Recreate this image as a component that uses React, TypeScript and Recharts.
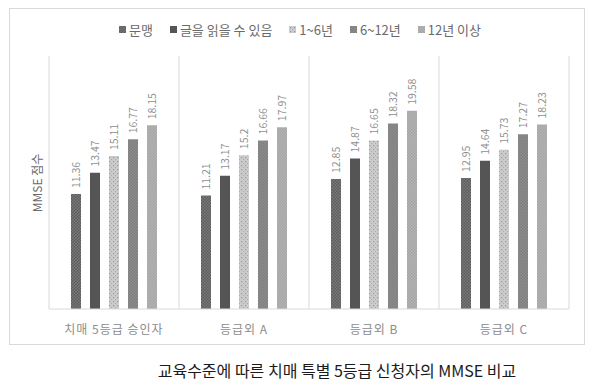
import React from "react";
import { BarChart, Bar, XAxis, YAxis, Legend, LabelList, CartesianGrid } from "recharts";

const categories = ["치매 5등급 승인자", "등급외 A", "등급외 B", "등급외 C"];
const seriesNames = ["문맹", "글을 읽을 수 있음", "1~6년", "6~12년", "12년 이상"];
const illiterate = [11.36, 11.21, 12.85, 12.95];
const canRead = [13.47, 13.17, 14.87, 14.64];
const y1to6 = [15.11, 15.2, 16.65, 15.73];
const y6to12 = [16.77, 16.66, 18.32, 17.27];
const y12plus = [18.15, 17.97, 19.58, 18.23];
const yDomain = [0, 25];

const seriesKeys = ["s0", "s1", "s2", "s3", "s4"];
const seriesValues = [illiterate, canRead, y1to6, y6to12, y12plus];
const patternIds = ["p0", "p1", "p2", "p3", "p4"];

const data = categories.map((name, i) => {
  const row: Record<string, string | number> = { name };
  seriesKeys.forEach((k, s) => {
    row[k] = seriesValues[s][i];
  });
  return row;
});

const KR = '"Noto Sans CJK KR", "Noto Sans", sans-serif';

const Patterns = () => (
  <svg width={0} height={0} style={{ position: "absolute" }}>
    <defs>
      <pattern id="p0" width={3} height={3} patternUnits="userSpaceOnUse">
        <rect width={3} height={3} fill="#5c5c5c" />
        <rect x={0} y={0} width={1.5} height={1.5} fill="#7a7a7a" />
        <rect x={1.5} y={1.5} width={1.5} height={1.5} fill="#7a7a7a" />
      </pattern>
      <pattern id="p1" width={4} height={4} patternUnits="userSpaceOnUse">
        <rect width={4} height={4} fill="#555555" />
      </pattern>
      <pattern id="p2" width={4} height={4} patternUnits="userSpaceOnUse">
        <rect width={4} height={4} fill="#cbcbcb" />
        <rect x={1} y={1} width={1.2} height={1.2} fill="#9a9a9a" />
        <rect x={3} y={3} width={1} height={1} fill="#aaaaaa" />
      </pattern>
      <pattern id="p3" width={3} height={3} patternUnits="userSpaceOnUse">
        <rect width={3} height={3} fill="#8e8e8e" />
        <rect x={0} y={0} width={1.5} height={1.5} fill="#7d7d7d" />
        <rect x={1.5} y={1.5} width={1.5} height={1.5} fill="#7d7d7d" />
      </pattern>
      <pattern id="p4" width={3} height={3} patternUnits="userSpaceOnUse">
        <rect width={3} height={3} fill="#b4b4b4" />
        <rect x={0} y={0} width={1.5} height={1.5} fill="#a4a4a4" />
        <rect x={1.5} y={1.5} width={1.5} height={1.5} fill="#a4a4a4" />
      </pattern>
    </defs>
  </svg>
);

const ValueLabel = (props: any) => {
  const { x, y, width, value } = props;
  const cx = x + width / 2;
  const ty = y - 6;
  return (
    <text
      x={cx}
      y={ty}
      transform={`rotate(-90 ${cx} ${ty})`}
      textAnchor="start"
      dominantBaseline="central"
      fill="#8f8f8f"
      fontSize={10.5}
      fontFamily={KR}
    >
      {value}
    </text>
  );
};

const CategoryTick = (props: any) => {
  const { x, y, payload } = props;
  return (
    <text
      x={x}
      y={y + 19}
      textAnchor="middle"
      dominantBaseline="central"
      fill="#8c8c8c"
      fontSize={12}
      letterSpacing={1}
      fontFamily={KR}
    >
      {payload.value}
    </text>
  );
};

const LegendContent = () => (
  <div
    style={{
      display: "flex",
      justifyContent: "center",
      alignItems: "center",
      height: 20,
      fontFamily: KR,
      fontSize: 13,
      color: "#6a6a6a",
    }}
  >
    {seriesNames.map((n, i) => (
      <div key={n} style={{ display: "flex", alignItems: "center", marginRight: i < seriesNames.length - 1 ? 17 : 0 }}>
        <svg width={7} height={7} style={{ marginRight: 3 }}>
          <rect width={7} height={7} fill={`url(#${patternIds[i]})`} />
        </svg>
        <span>{n}</span>
      </div>
    ))}
  </div>
);

const boundaryGenerator = (props: any) => {
  const { offset } = props;
  const n = categories.length;
  const w = offset.width / n;
  const out: number[] = [];
  for (let i = 0; i <= n; i++) out.push(offset.left + i * w);
  return out;
};

export default function App() {
  return (
    <div style={{ position: "absolute", left: 0, top: 0, width: 600, height: 389, background: "#fff" }}>
      <Patterns />
      <div
        style={{
          position: "absolute",
          left: 9,
          top: 8,
          width: 576,
          height: 337,
          border: "1px solid #d9d9d9",
          boxSizing: "border-box",
        }}
      />
      <div style={{ position: "absolute", left: 0, top: 0 }}>
        <BarChart
          width={600}
          height={389}
          data={data}
          margin={{ top: 36, right: 31, bottom: 50, left: 49 }}
          barSize={10}
          barGap={9}
        >
          <CartesianGrid
            horizontal={false}
            vertical
            stroke="#d9d9d9"
            verticalCoordinatesGenerator={boundaryGenerator}
          />
          <XAxis
            dataKey="name"
            tickLine={false}
            tickSize={0}
            tickMargin={0}
            height={30}
            axisLine={{ stroke: "#d9d9d9" }}
            tick={<CategoryTick />}
            interval={0}
          />
          <YAxis domain={yDomain} hide />
          <Legend content={<LegendContent />} verticalAlign="top" wrapperStyle={{ top: 19, left: 0, width: 600 }} />
          {seriesKeys.map((k, s) => (
            <Bar key={k} dataKey={k} name={seriesNames[s]} fill={`url(#${patternIds[s]})`} isAnimationActive={false}>
              <LabelList dataKey={k} content={<ValueLabel />} />
            </Bar>
          ))}
        </BarChart>
      </div>
      <div
        style={{
          position: "absolute",
          left: 36,
          top: 183,
          transform: "translate(-50%, -50%) rotate(-90deg)",
          fontFamily: KR,
          fontSize: 12,
          color: "#6a6a6a",
          whiteSpace: "nowrap",
        }}
      >
        MMSE 점수
      </div>
      <div
        style={{
          position: "absolute",
          left: 337,
          top: 370,
          transform: "translate(-50%, -50%)",
          fontFamily: KR,
          fontSize: 16,
          color: "#1a1a1a",
          whiteSpace: "nowrap",
        }}
      >
        교육수준에 따른 치매 특별 5등급 신청자의 MMSE 비교
      </div>
    </div>
  );
}
